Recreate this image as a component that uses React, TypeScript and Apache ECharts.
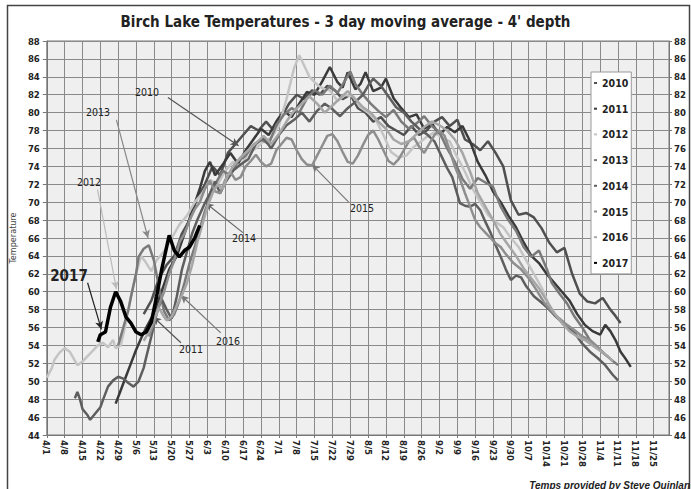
import { useEffect, useRef } from "react";
import * as echarts from "echarts";

const TITLE = "Birch Lake Temperatures - 3 day moving average - 4' depth";
const CREDIT = "Temps provided by Steve Quinlan";
const NARROW = "'Liberation Sans Narrow', 'Arial Narrow', 'DejaVu Sans Condensed', sans-serif";

const xTickLabels = [
  "4/1", "4/8", "4/15", "4/22", "4/29", "5/6", "5/13", "5/20", "5/27", "6/3", "6/10", "6/17",
  "6/24", "7/1", "7/8", "7/15", "7/22", "7/29", "8/5", "8/12", "8/19", "8/26", "9/2", "9/9",
  "9/16", "9/23", "9/30", "10/7", "10/14", "10/21", "10/28", "11/4", "11/11", "11/18", "11/25",
];

const years = ["2010", "2011", "2012", "2013", "2014", "2015", "2016", "2017"];
const yearColors = ["#505050", "#3a3a3a", "#c4c4c4", "#7a7a7a", "#5e5e5e", "#8e8e8e", "#a6a6a6", "#000000"];

// [days since 4/1, temperature °F]
const y2010: [number, number][] = [
  [38, 57.5], [41, 59], [44, 61.5], [47, 63], [50, 64], [53, 66.5], [56, 68], [59, 70.5], [62, 72], [65, 74],
  [68, 73], [71, 75.5], [74, 76.5], [77, 77.5], [80, 78.5], [83, 78], [86, 79], [89, 78], [92, 79.5], [95, 81],
  [98, 82], [101, 81.5], [104, 82.5], [107, 82], [110, 83], [113, 82.5], [116, 81.5], [119, 82], [122, 80.5],
  [125, 80], [128, 79], [131, 79.5], [134, 78.5], [137, 78], [140, 77.5], [143, 78.5], [146, 77.5], [149, 78],
  [152, 79], [155, 79.5], [158, 78.5], [161, 79.2], [164, 77], [167, 76.5], [170, 75.8], [173, 76.8], [176, 75.5],
  [179, 74], [182, 70.2], [185, 68.6], [188, 68.8], [191, 68.3], [194, 67.1], [197, 65.5], [200, 64.4], [203, 64.9],
  [206, 62], [209, 59.8], [212, 58.9], [215, 58.7], [218, 59.3], [221, 58], [223, 57.3], [225, 56.5],
];
const y2011: [number, number][] = [
  [27, 47.5], [29, 49], [31, 50.5], [33, 52], [35, 53.5], [37, 54.8], [39, 56], [42, 57.6], [45, 60], [48, 62.5],
  [51, 64], [54, 66.5], [57, 69], [60, 71.5], [62, 73.5], [64, 74.5], [66, 73], [69, 74.2], [72, 75.5], [75, 74.3],
  [78, 75.8], [81, 77], [84, 78.2], [87, 77.5], [90, 79], [93, 80.2], [96, 79.5], [99, 81], [102, 82.3], [105, 82],
  [108, 83.5], [111, 85.1], [114, 83.4], [116, 82.8], [118, 84.5], [121, 82.6], [123, 83.2], [125, 84.5], [128, 82.4],
  [131, 82.8], [133, 83.8], [136, 81.6], [139, 80.5], [142, 79.5], [145, 79.8], [148, 78.2], [151, 78.8], [154, 77.5],
  [157, 78.4], [160, 77.8], [163, 78.5], [166, 76.8], [169, 74.5], [172, 73], [175, 71.2], [178, 70], [181, 68.5],
  [184, 67.2], [187, 65.5], [190, 64], [193, 63.2], [196, 62], [199, 61], [202, 60], [205, 59], [208, 57.5],
  [211, 56.3], [214, 55.6], [217, 55.2], [219, 56.3], [221, 55.6], [223, 54.6], [225, 53.3], [227, 52.5], [229, 51.6],
];
const y2012: [number, number][] = [
  [0, 50.4], [2, 51.5], [3, 52.4], [5, 53.2], [7, 53.7], [9, 53.3], [11, 52.3], [12, 51.8], [14, 52.2], [16, 52.8],
  [18, 53.4], [20, 54], [22, 54.3], [24, 53.8], [26, 54.6], [27, 53.7], [29, 54], [31, 56.5], [33, 59.5], [35, 62],
  [37, 64], [39, 63.2], [41, 62.3], [43, 63.5], [46, 64.5], [49, 66], [52, 67.5], [55, 68.5], [58, 70], [61, 71],
  [64, 72.5], [67, 72], [70, 73.5], [73, 74.5], [76, 74], [79, 75.5], [82, 76], [85, 76.8], [88, 77.2], [91, 78.5],
  [94, 81.5], [97, 85], [99, 86.4], [101, 85.2], [103, 84], [105, 83.4], [107, 82.9], [109, 82.6], [111, 82.5],
  [114, 81.3], [117, 82], [120, 81.8], [123, 80.6], [126, 80], [129, 79.2], [132, 77.5], [135, 75.6], [138, 75],
  [141, 75.2], [144, 76.2], [146, 76.6], [149, 77.3], [152, 77.8], [155, 77.2], [158, 76.8], [161, 75], [164, 73.4],
  [167, 71.5], [170, 70], [173, 68.6], [176, 67.8], [179, 67.2], [182, 66], [185, 65], [188, 63.5], [191, 62],
  [194, 60.5], [197, 58.5], [200, 57.2], [203, 56.2], [206, 55.7], [209, 55.2], [212, 54.6], [215, 53.9], [218, 53.2],
  [220, 52.8],
];
const y2013: [number, number][] = [
  [28, 54], [30, 56], [32, 58], [33, 59.4], [35, 62], [36, 63.9], [38, 64.8], [40, 65.2], [42, 63.5], [44, 60.5],
  [46, 57.8], [48, 56.8], [50, 57.5], [52, 59], [54, 61], [56, 63.2], [58, 65], [60, 67], [62, 69], [64, 70.5],
  [66, 72], [69, 73.5], [72, 73], [75, 74.6], [78, 75.2], [81, 76.4], [84, 77], [87, 76.5], [90, 78.6], [93, 79.8],
  [96, 80.5], [99, 80], [102, 81.6], [105, 82.5], [108, 82], [111, 83], [114, 82.2], [117, 83.6], [119, 84.6],
  [121, 83.2], [124, 82], [127, 81], [130, 80.2], [133, 79.5], [136, 80.3], [139, 79], [142, 78.2], [145, 78.8],
  [148, 79.6], [151, 78.5], [154, 77.8], [157, 76], [160, 74.5], [163, 72.6], [166, 71.5], [169, 72.7], [172, 72.2],
  [175, 71.7], [178, 69.5], [181, 68], [184, 66.8], [187, 65], [190, 63.9], [193, 64.6], [196, 62.6], [198, 61],
  [201, 59.8], [204, 58.7], [207, 57.2], [210, 56], [213, 54.6], [216, 53.8], [218, 53.2], [221, 52.5], [224, 51.8],
];
const y2014: [number, number][] = [
  [11, 48.1], [12, 48.8], [13, 48], [14, 46.9], [16, 46.2], [17, 45.7], [19, 46.4], [21, 47.1], [22, 47.9], [24, 49.4],
  [26, 50.1], [28, 50.5], [30, 50.3], [32, 49.8], [34, 49.4], [36, 50], [38, 51.5], [39, 52.7], [41, 55], [43, 57.5],
  [45, 59.2], [47, 58], [49, 57], [51, 59.5], [53, 62.5], [55, 64.5], [57, 66.5], [59, 68], [62, 69.9], [64, 71],
  [66, 72.3], [68, 71], [70, 72.2], [73, 73.5], [76, 74.2], [79, 74.8], [82, 76.5], [85, 77.2], [88, 76], [91, 77.5],
  [94, 78.6], [97, 79.2], [100, 80], [103, 79], [106, 80.2], [109, 81], [112, 80.4], [115, 79.6], [118, 80.5],
  [121, 81.2], [124, 82], [126, 83], [128, 83.8], [131, 83], [134, 81.8], [137, 80.6], [140, 80], [143, 79],
  [146, 78.2], [149, 77.6], [152, 76.8], [155, 75], [157, 73.8], [159, 72.8], [162, 69.9], [164, 69.6], [166, 69.5],
  [168, 69.8], [170, 69.1], [172, 67.8], [174, 66.6], [176, 65.2], [178, 63.9], [180, 62.5], [182, 61.3], [184, 61.8],
  [186, 61.6], [188, 60.6], [191, 59.5], [194, 58.8], [196, 58.3], [199, 57.4], [202, 56.6], [205, 55.8], [207, 55.4],
  [210, 54.2], [213, 53.3], [216, 52.6], [219, 51.8], [222, 50.7], [224, 50.1],
];
const y2015: [number, number][] = [
  [40, 55], [42, 56.5], [44, 58.5], [46, 60], [48, 62], [50, 63.5], [52, 65.5], [54, 66.5], [56, 68], [58, 69.2],
  [60, 70], [62, 71.5], [64, 72.4], [66, 71.2], [68, 71], [70, 72.5], [72, 73.4], [74, 72.5], [76, 72.8], [78, 74],
  [80, 74.6], [82, 75.3], [84, 74.5], [86, 74], [88, 74.3], [90, 75.8], [92, 76.5], [94, 77.2], [96, 77], [98, 75.8],
  [100, 74.8], [102, 74.2], [104, 74.1], [106, 75.2], [108, 76.3], [110, 77.4], [112, 77.6], [114, 76.8], [116, 75.6],
  [118, 74.5], [120, 74.3], [122, 75.2], [124, 76.4], [126, 77.5], [128, 78], [130, 77], [132, 75.8], [134, 74.6],
  [136, 74.2], [138, 74.8], [140, 75.8], [142, 76.8], [144, 77.2], [146, 76.2], [148, 75.5], [150, 76.5], [152, 77.5],
  [154, 78], [156, 77.4], [158, 75.8], [160, 74], [162, 72.6], [164, 71], [166, 69.5], [168, 68], [170, 67.2],
  [172, 66.6], [174, 66], [176, 65.4], [178, 65], [180, 64.2], [183, 63.2], [186, 62.5], [189, 61.5], [192, 60.2],
  [195, 58.8], [198, 57.8], [201, 57], [204, 56.3], [207, 55.7], [210, 55], [213, 54.6], [216, 53.8], [219, 53],
];
const y2016: [number, number][] = [
  [38, 54.5], [40, 55.5], [42, 57], [44, 58.2], [46, 57.2], [47, 56.8], [49, 57.2], [51, 58.5], [53, 59.6], [55, 61],
  [57, 63], [59, 65.5], [61, 67.5], [63, 69.5], [65, 71], [67, 72], [69, 71.5], [71, 73], [73, 74], [76, 75],
  [79, 75.8], [82, 76.6], [85, 77.4], [88, 76.5], [91, 77.6], [94, 79], [97, 80.2], [100, 81], [103, 81.8], [106, 81],
  [109, 80], [112, 80.8], [115, 81.6], [118, 82.4], [121, 81.5], [124, 80.6], [127, 80], [130, 79], [133, 78.2],
  [136, 77], [139, 76.5], [142, 76.8], [145, 77.6], [148, 78.4], [151, 79], [154, 78.6], [157, 78], [160, 77],
  [163, 75.5], [166, 73.4], [169, 71], [172, 69.5], [175, 68], [178, 66.4], [181, 65.2], [184, 64], [187, 62.6],
  [190, 61.5], [193, 60.4], [196, 59], [199, 57.6], [202, 56.5], [205, 55.6], [208, 55], [211, 54.6], [214, 54],
  [217, 53.4], [220, 52.8], [222, 52.2],
];
const y2017: [number, number][] = [
  [20, 54.4], [21, 55.2], [23, 55.5], [25, 58.3], [27, 60], [29, 58.9], [31, 57.2], [33, 56.5], [35, 55.5], [37, 55.2],
  [39, 55.5], [41, 56.6], [43, 59.4], [45, 62.4], [47, 65], [48, 66.3], [50, 64.6], [52, 63.9], [54, 64.6], [56, 65],
  [58, 66], [60, 67.4],
];
const seriesData = [y2010, y2011, y2012, y2013, y2014, y2015, y2016, y2017];

// annotation arrows in data coords: [fromDay, fromTemp, toDay, toTemp]
const arrows: [number, number, number, number][] = [
  [47.5, 81.7, 75.2, 76.3],
  [52.6, 54.3, 41.7, 57.2],
  [19.9, 71.4, 27.3, 60.3],
  [27.3, 79.2, 39.7, 66.0],
  [76.9, 66.6, 62.3, 69.9],
  [118.4, 70.0, 104.0, 74.2],
  [68.2, 55.4, 52.6, 59.6],
  [16.0, 61.0, 21.4, 55.8],
];
const arrowColors = ["#555", "#555", "#bbb", "#888", "#666", "#777", "#777", "#222"];
// annotation label centers (px)
const labelPos: [number, number][] = [
  [147, 92], [191, 349], [89, 182], [98, 112], [244, 238], [362, 208], [228, 341], [69, 276],
];

export default function App() {
  const ref = useRef<HTMLDivElement>(null);
  useEffect(() => {
    if (!ref.current) return;
    const chart = echarts.init(ref.current, null, { renderer: "svg" });
    const axisFont = { fontFamily: NARROW, fontSize: 9.5, fontWeight: "bold" as const, color: "#222" };
    const series = years.map((y, i) => ({
      name: y,
      type: "line",
      data: seriesData[i],
      showSymbol: false,
      symbol: "none",
      z: 2 + i,
      lineStyle: { color: yearColors[i], width: i === 7 ? 3.5 : 2.5 },
      itemStyle: { color: yearColors[i] },
      markLine: {
        silent: true,
        symbol: ["none", "arrow"],
        symbolSize: [6, 8],
        label: { show: false },
        lineStyle: { color: arrowColors[i], width: 1.2, type: "solid" },
        data: [[{ coord: [arrows[i][0], arrows[i][1]] }, { coord: [arrows[i][2], arrows[i][3]] }]],
      },
    }));
    const graphics: any[] = [
      {
        type: "rect",
        shape: { x: 7.5, y: 5.5, width: 682, height: 500 },
        style: { fill: "none", stroke: "#444", lineWidth: 1.5 },
        silent: true,
        z: 0,
      },
      {
        type: "text",
        x: 690,
        y: 485,
        style: {
          text: CREDIT,
          font: "italic bold 10px 'Liberation Sans', Arial, sans-serif",
          fill: "#222",
          align: "right",
          verticalAlign: "middle",
        },
      },
    ];
    years.forEach((y, i) => {
      graphics.push({
        type: "text",
        x: labelPos[i][0],
        y: labelPos[i][1],
        z: 100,
        style: {
          text: y,
          font: i === 7 ? `bold 15px ${NARROW}` : `10.5px ${NARROW}`,
          fill: "#222",
          align: "center",
          verticalAlign: "middle",
        },
      });
    });
    chart.setOption({
      animation: false,
      backgroundColor: "#ffffff",
      title: {
        text: TITLE,
        left: "center",
        top: 14,
        padding: 0,
        textStyle: { fontFamily: NARROW, fontSize: 15, fontWeight: "bold", color: "#222" },
      },
      legend: {
        data: years,
        orient: "vertical",
        left: 591,
        top: 72,
        padding: [5, 3, 5, 3],
        itemGap: 13.7,
        itemWidth: 3,
        itemHeight: 2,
        itemTextGap: 3,
        icon: "rect",
        backgroundColor: "#ffffff",
        borderColor: "#999",
        borderWidth: 1,
        textStyle: { fontFamily: NARROW, fontSize: 10.5, fontWeight: "bold", color: "#222", lineHeight: 12 },
      },
      grid: {
        left: 43,
        right: 22,
        top: 41,
        bottom: 54,
        show: true,
        backgroundColor: "#efefef",
        borderColor: "#777",
        borderWidth: 1,
      },
      xAxis: {
        type: "value",
        min: 0,
        max: 244,
        interval: 7,
        axisLine: { show: true, lineStyle: { color: "#777" } },
        axisTick: { show: true, length: 3, lineStyle: { color: "#777" } },
        splitLine: { show: true, lineStyle: { color: "#8a8a8a", width: 1 } },
        axisLabel: {
          ...axisFont,
          rotate: -90,
          margin: 5,
          showMaxLabel: false,
          formatter: (v: number) => xTickLabels[Math.round(v / 7)] ?? "",
        },
      },
      yAxis: [
        {
          type: "value",
          min: 44,
          max: 88,
          interval: 2,
          name: "Temperature",
          nameLocation: "middle",
          nameGap: 25,
          nameRotate: 90,
          nameTextStyle: { fontFamily: NARROW, fontSize: 9, color: "#444" },
          axisLine: { show: true, lineStyle: { color: "#777" } },
          axisTick: { show: true, length: 4, lineStyle: { color: "#777" } },
          splitLine: { show: true, lineStyle: { color: "#8a8a8a", width: 1 } },
          axisLabel: { ...axisFont, margin: 7 },
        },
        {
          type: "value",
          min: 44,
          max: 88,
          interval: 2,
          position: "right",
          axisLine: { show: true, lineStyle: { color: "#777" } },
          axisTick: { show: true, length: 3, lineStyle: { color: "#777" } },
          splitLine: { show: false },
          axisLabel: { ...axisFont, margin: 5 },
        },
      ],
      series,
      graphic: graphics,
    });
    return () => chart.dispose();
  }, []);
  return (
    <div
      ref={ref}
      style={{ position: "fixed", left: 0, top: 0, width: 691, height: 489, background: "#fff" }}
    />
  );
}
